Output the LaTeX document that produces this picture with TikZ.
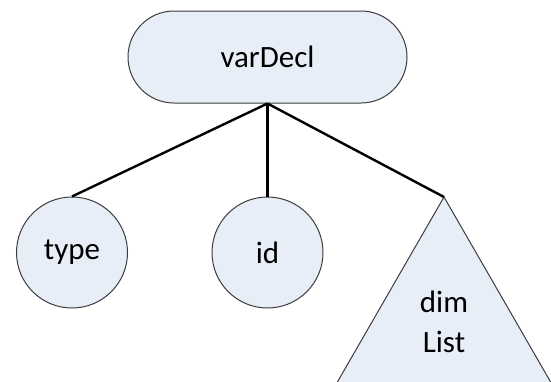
\documentclass[tikz,border=0pt]{standalone}
\usepackage{fontspec}
\setmainfont{Carlito}
\usetikzlibrary{positioning}
\definecolor{nodefill}{RGB}{232,238,248}
\definecolor{nodeline}{RGB}{60,60,60}
\tikzset{
  root/.style={draw=nodeline,line width=1pt,fill=nodefill,rounded corners=46pt,minimum width=279pt,minimum height=92pt,font=\fontsize{31}{37}\selectfont},
  leaf/.style={circle,draw=nodeline,line width=1pt,fill=nodefill,minimum size=111pt,inner sep=0pt,font=\fontsize{31}{37}\selectfont},
  subtree/.style={draw=nodeline,line width=1pt,fill=nodefill},
  edge/.style={draw=black,line width=2.4pt}
}
\begin{document}
\begin{tikzpicture}[x=1pt,y=-1pt]
\clip (0,0) rectangle (551,381);
\node[root] (varDecl) at (267.5,57) {varDecl};
\node[leaf] (type) at (72,252.5) {type};
\node[leaf] (id) at (267.5,252.5) {id};
\coordinate (dimtop) at (444,197);
\filldraw[subtree] (dimtop) -- (327,400) -- (561,400) -- cycle;
\node[align=center,font=\fontsize{31}{40}\selectfont] (dimList) at (444,322) {dim\\List};
\draw[edge] (varDecl.south) -- (type.north);
\draw[edge] (varDecl.south) -- (id.north);
\draw[edge] (varDecl.south) -- (dimtop);
\end{tikzpicture}
\end{document}
